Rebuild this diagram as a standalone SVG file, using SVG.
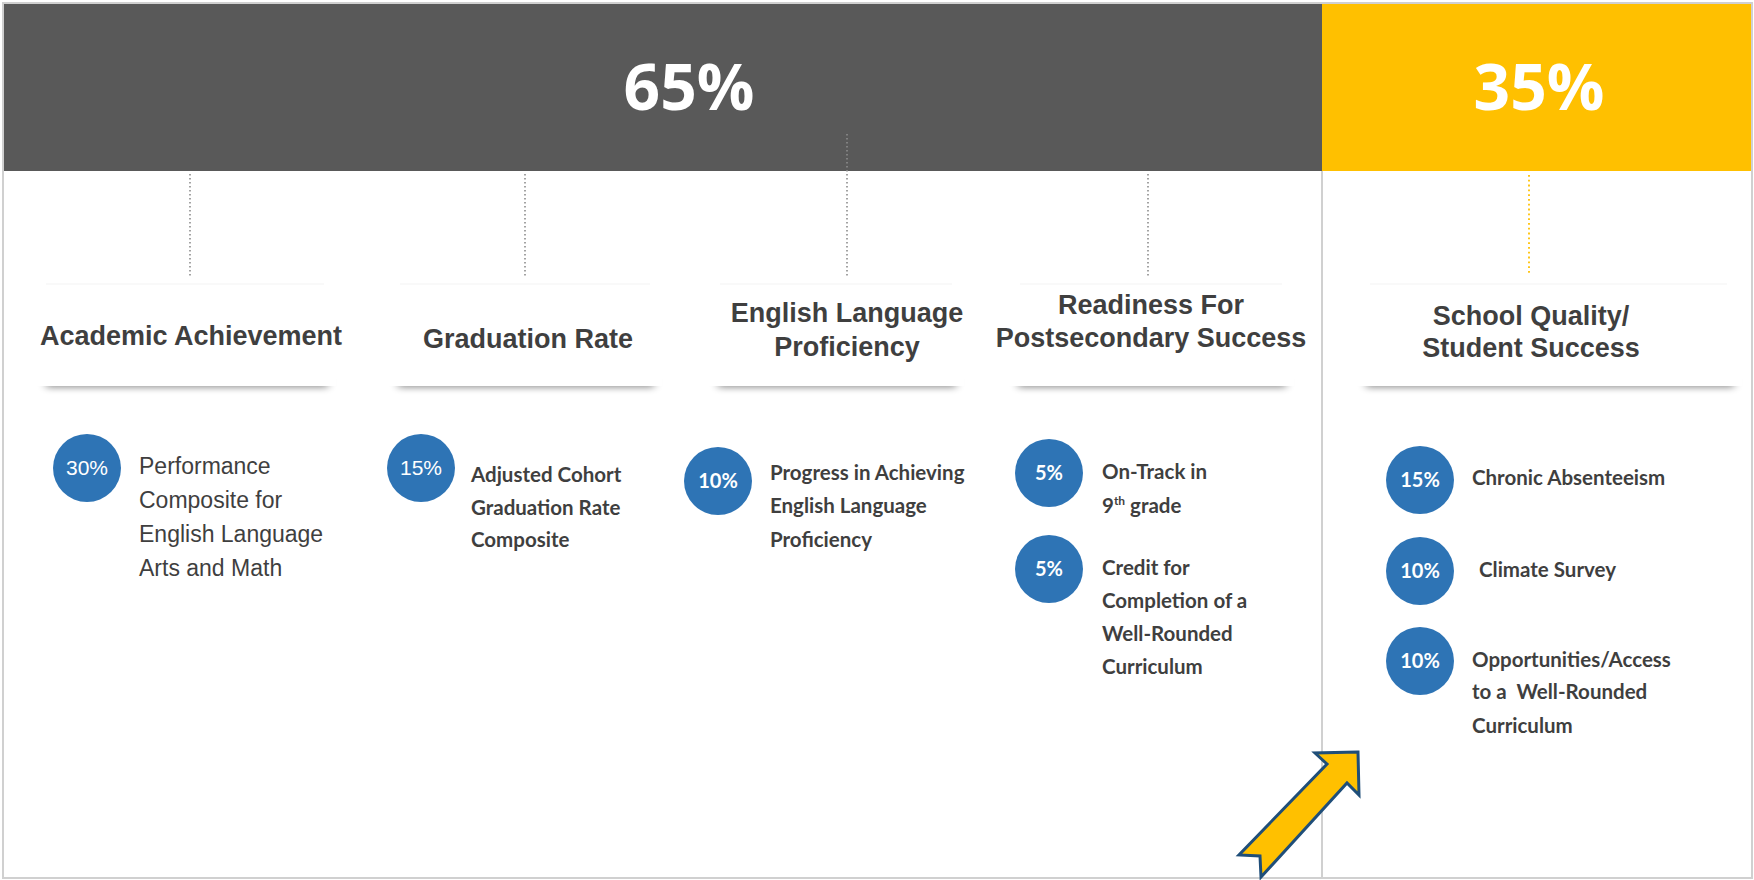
<svg xmlns="http://www.w3.org/2000/svg" width="1754" height="880" viewBox="0 0 1754 880">
  <style>
    .frame { fill: none; stroke: #d0d0d0; stroke-width: 2; }
    .hdr { font-family: "Open Sans", "Liberation Sans", sans-serif; font-weight: 700; font-size: 64px; fill: #ffffff; text-anchor: middle; }
    .card { fill: #ffffff; }
    .shade { fill: #000000; opacity: 0.38; filter: url(#soft); }
    .cardTop { stroke: #f3f3f3; stroke-width: 1; }
    .title { font-family: "Liberation Sans", Arial, sans-serif; font-weight: 700; font-size: 27px; fill: #3f3f3f; text-anchor: middle; }
    .dot { fill: #2e74b5; }
    .pct { font-family: Lato, "Liberation Sans", sans-serif; font-weight: 700; font-size: 20px; fill: #ffffff; text-anchor: middle; }
    .pctA { font-family: "Liberation Sans", Arial, sans-serif; font-size: 21px; fill: #ffffff; text-anchor: middle; }
    .itemA { font-family: "Liberation Sans", Arial, sans-serif; font-size: 23px; fill: #3f3f3f; }
    .item { font-family: Lato, "Liberation Sans", sans-serif; font-weight: 700; font-size: 20.5px; fill: #3f3f3f; }
    .link { stroke: #8c8c8c; stroke-width: 1.6; stroke-dasharray: 1.6 2.4; fill: none; }
    .linkY { stroke: #ffc000; stroke-width: 1.8; stroke-dasharray: 1.8 3; fill: none; }
  </style>
  <defs>
    <filter id="soft" x="-10%" y="-200%" width="120%" height="500%">
      <feGaussianBlur stdDeviation="4 3"/>
    </filter>
  </defs>

  <rect x="0" y="0" width="1754" height="880" fill="#ffffff"/>

  <!-- header bands -->
  <g id="band-65">
    <rect x="2" y="3" width="1320" height="168" fill="#595959"/>
    <text class="hdr" x="689" y="110">65%</text>
  </g>
  <g id="band-35">
    <rect x="1322" y="3" width="431" height="168" fill="#ffc000"/>
    <text class="hdr" x="1539" y="110">35%</text>
  </g>

  <!-- outer frame and divider -->
  <rect class="frame" x="3" y="3" width="1749" height="875"/>
  <line x1="1322" y1="171" x2="1322" y2="878" stroke="#d0d0d0" stroke-width="2"/>

  <!-- dotted connectors from the bands to the category cards -->
  <g id="connectors">
    <line class="link" x1="190" y1="174" x2="190" y2="276"/>
    <line class="link" x1="525" y1="174" x2="525" y2="276"/>
    <line class="link" x1="847" y1="134" x2="847" y2="276"/>
    <line class="link" x1="1148" y1="174" x2="1148" y2="276"/>
    <line class="linkY" x1="1529" y1="175" x2="1529" y2="274"/>
  </g>

  <!-- category cards: white panel with a soft shadow along the lower edge -->
  <g id="card-academic">
    <rect class="shade" x="46" y="378" width="282" height="10"/>
    <rect class="card" x="36" y="284" width="300" height="102"/>
    <line class="cardTop" x1="46" y1="284" x2="324" y2="284"/>
    <text class="title" x="191" y="345">Academic Achievement</text>
  </g>
  <g id="card-graduation">
    <rect class="shade" x="398" y="378" width="256" height="10"/>
    <rect class="card" x="388" y="284" width="274" height="102"/>
    <line class="cardTop" x1="400" y1="284" x2="650" y2="284"/>
    <text class="title" x="528" y="348">Graduation Rate</text>
  </g>
  <g id="card-elp">
    <rect class="shade" x="718" y="378" width="238" height="10"/>
    <rect class="card" x="708" y="284" width="256" height="102"/>
    <line class="cardTop" x1="720" y1="284" x2="952" y2="284"/>
    <text class="title" x="847" y="322">English Language</text>
    <text class="title" x="847" y="356">Proficiency</text>
  </g>
  <g id="card-readiness">
    <rect class="shade" x="1018" y="378" width="268" height="10"/>
    <rect class="card" x="1008" y="284" width="286" height="102"/>
    <line class="cardTop" x1="1020" y1="284" x2="1282" y2="284"/>
    <text class="title" x="1151" y="314">Readiness For</text>
    <text class="title" x="1151" y="347">Postsecondary Success</text>
  </g>
  <g id="card-sqss">
    <rect class="shade" x="1366" y="378" width="368" height="10"/>
    <rect class="card" x="1356" y="284" width="386" height="102"/>
    <line class="cardTop" x1="1370" y1="284" x2="1727" y2="284"/>
    <text class="title" x="1531" y="325">School Quality/</text>
    <text class="title" x="1531" y="357">Student Success</text>
  </g>

  <!-- indicators -->
  <g id="ind-performance">
    <circle class="dot" cx="87" cy="468" r="34"/>
    <text class="pctA" x="87" y="475">30%</text>
    <text class="itemA" x="139" y="474">Performance</text>
    <text class="itemA" x="139" y="508">Composite for</text>
    <text class="itemA" x="139" y="542">English Language</text>
    <text class="itemA" x="139" y="576">Arts and Math</text>
  </g>
  <g id="ind-graduation">
    <circle class="dot" cx="421" cy="468" r="34"/>
    <text class="pctA" x="421" y="475">15%</text>
    <text class="item" x="471" y="482">Adjusted Cohort</text>
    <text class="item" x="471" y="515">Graduation Rate</text>
    <text class="item" x="471" y="547">Composite</text>
  </g>
  <g id="ind-elp">
    <circle class="dot" cx="718" cy="481" r="34"/>
    <text class="pct" x="718" y="488">10%</text>
    <text class="item" x="770" y="480">Progress in Achieving</text>
    <text class="item" x="770" y="513">English Language</text>
    <text class="item" x="770" y="547">Proficiency</text>
  </g>
  <g id="ind-ontrack">
    <circle class="dot" cx="1049" cy="473" r="34"/>
    <text class="pct" x="1049" y="480">5%</text>
    <text class="item" x="1102" y="479">On-Track in</text>
    <text class="item" x="1102" y="513">9<tspan font-size="12" dy="-8">th</tspan><tspan dy="8"> grade</tspan></text>
  </g>
  <g id="ind-credit">
    <circle class="dot" cx="1049" cy="569" r="34"/>
    <text class="pct" x="1049" y="576">5%</text>
    <text class="item" x="1102" y="575">Credit for</text>
    <text class="item" x="1102" y="608">Completion of a</text>
    <text class="item" x="1102" y="641">Well-Rounded</text>
    <text class="item" x="1102" y="674">Curriculum</text>
  </g>
  <g id="ind-absenteeism">
    <circle class="dot" cx="1420" cy="480" r="34"/>
    <text class="pct" x="1420" y="487">15%</text>
    <text class="item" x="1472" y="485">Chronic Absenteeism</text>
  </g>
  <g id="ind-climate">
    <circle class="dot" cx="1420" cy="571" r="34"/>
    <text class="pct" x="1420" y="578">10%</text>
    <text class="item" x="1479" y="577">Climate Survey</text>
  </g>
  <g id="ind-access">
    <circle class="dot" cx="1420" cy="661" r="34"/>
    <text class="pct" x="1420" y="668">10%</text>
    <text class="item" x="1472" y="667">Opportunities/Access</text>
    <text class="item" x="1472" y="699" xml:space="preserve">to a  Well-Rounded</text>
    <text class="item" x="1472" y="733">Curriculum</text>
  </g>

  <!-- callout arrow -->
  <g id="arrow">
    <path d="M1358,752 L1315,753 L1327,764 L1239,855 L1260,856 L1261,877 L1347,783 L1359,795 Z" fill="#ffc000" stroke="#1f4e79" stroke-width="3" stroke-linejoin="miter"/>
  </g>
</svg>
